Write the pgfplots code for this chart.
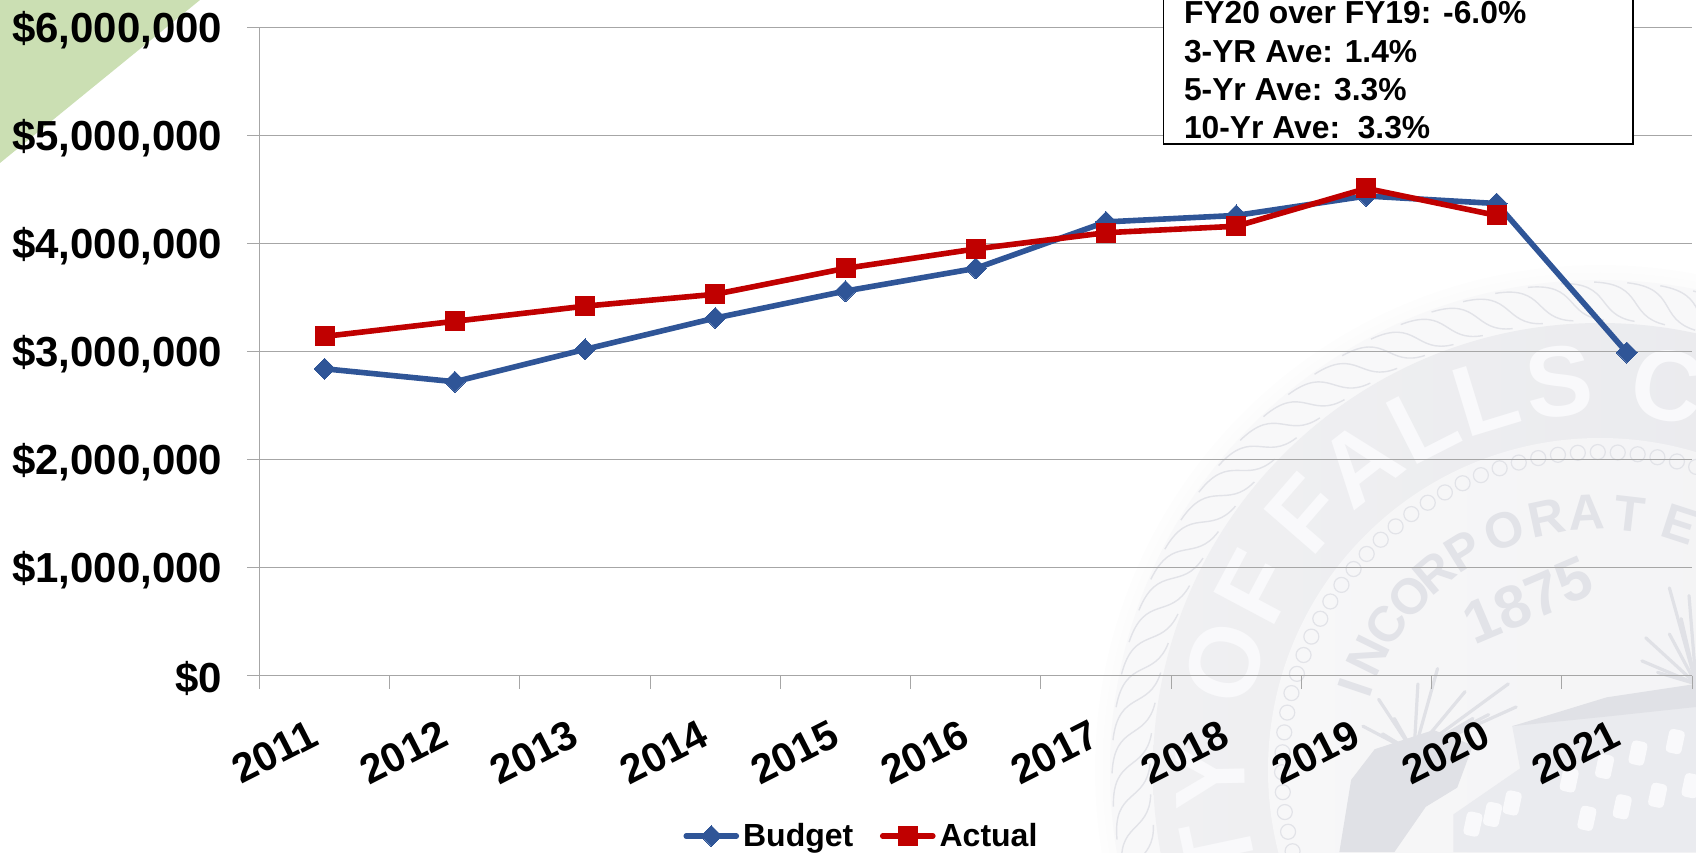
\documentclass[border=0pt]{standalone}
\usepackage{fontspec}
\setmainfont{Liberation Sans}
\usepackage{pgfplots}
\pgfplotsset{compat=1.18}
\definecolor{budgetblue}{HTML}{2F5597}
\definecolor{actualred}{HTML}{C00000}
\definecolor{gridgray}{HTML}{A6A6A6}
\definecolor{sealgreen}{HTML}{CBDFB3}
\definecolor{sealband}{HTML}{EAEBEF}
\definecolor{sealbandL}{HTML}{F0F0F2}
\definecolor{sealbandR}{HTML}{E7E8EC}
\definecolor{sealinnerL}{HTML}{F7F7F8}
\definecolor{sealinnerR}{HTML}{F2F2F4}
\definecolor{sealrope}{HTML}{F8F8F9}
\definecolor{sealline}{HTML}{E2E3E8}
\definecolor{sealdark}{HTML}{E0E1E6}
\definecolor{sealwhite}{HTML}{F9F9FB}
\begin{document}
\begin{tikzpicture}
\useasboundingbox (-129.75pt,-88.25pt) rectangle (718.25pt,337.75pt);
\clip (-129.75pt,-88.25pt) rectangle (718.25pt,337.75pt);
% pixel coordinates of the reference
\begin{scope}[shift={(-129.75pt,337.75pt)},x=0.5pt,y=-0.5pt]
\fill[sealgreen] (0,0) -- (200,0) -- (0,163) -- cycle;
% seal halo and rope
\fill[black!0.6] (1600,770) circle (505);
\fill[black!1.2] (1600,770) circle (497);
\fill[sealrope] (1600,770) circle (490);
\shade[left color=sealbandL,right color=sealbandR] (1600,770) circle (447);
\shade[left color=sealinnerL,right color=sealinnerR] (1600,770) circle (332);
\foreach \a in {40,43.9,...,200}{
  \draw[sealline,line width=0.7pt]
    ({1600+488*cos(\a)},{770-488*sin(\a)})
    .. controls ({1600+488*cos(\a-6)},{770-488*sin(\a-6)}) and ({1600+455*cos(\a-4)},{770-455*sin(\a-4)})
    .. ({1600+450*cos(\a-9)},{770-450*sin(\a-9)});
}
\foreach \a in {40,43.6,...,200}{
  \draw[sealline,line width=0.6pt] ({1600+318*cos(\a)},{770-318*sin(\a)}) circle (7.5);
}
% outer lettering
\foreach \a/\l in {192/T,181/Y,164/O,152/F,139/F,128/A,117/L,107/L,96/S,80/C}{
  \node[text=sealwhite,font=\bfseries\fontsize{50}{50}\selectfont,rotate=\a-90,inner sep=0pt]
    at ({1600+390*cos(\a)},{770-390*sin(\a)}) {\l};
}
% inner lettering
\foreach \a/\l in {161.4/I,153.8/N,145.7/C,137.6/O,130/R,121.8/P,111.7/O,102/R,93/A,83.4/T,72/E,62/D}{
  \node[text=sealline,font=\bfseries\fontsize{25}{25}\selectfont,rotate=\a-90,inner sep=0pt]
    at ({1600+258*cos(\a)},{770-258*sin(\a)}) {\l};
}
\node[text=sealline,font=\bfseries\fontsize{30}{30}\selectfont,rotate=23,inner sep=0pt] at (1528,600) {1875};
\end{scope}
% trees and building, in coordinates of the zoomed crop
\begin{scope}[shift={(410.25pt,212.75pt)},x=0.19646pt,y=-0.192pt]
\fill[sealdark] (690,1380) -- (750,1300) -- (900,1250) -- (1000,1290) -- (960,1400) -- (880,1450) -- (800,1568) -- (660,1568) -- cycle;
\foreach \ex/\ey in {910/1090,1090/1130,1110/1190,760/1170,800/1220,980/1150,1040/1210,720/1240,860/1130,1000/1220,770/1260}{
  \draw[sealdark,line width=1.6pt,line cap=round] (850,1310) -- (\ex,\ey);
}
\foreach \ex/\ey in {1440/1010,1500/880,1530/960,1470/1100,1430/1070,1550/900,1500/1000}{
  \draw[sealdark,line width=1.6pt,line cap=round] (1568,1130) -- (\ex,\ey);
}
\fill[sealband] (950,1470) -- (1120,1350) -- (1100,1240) -- (1568,1130) -- (1568,1568) -- (950,1568) -- cycle;
\fill[sealdark] (1100,1240) -- (1340,1165) -- (1568,1130) -- (1568,1190) -- (1340,1215) -- cycle;
\foreach \wx/\wy in {1420/1310,1515/1280,1335/1345,1245/1380,1380/1450,1290/1480,1470/1420,1555/1395,1000/1495,1050/1470,1100/1440}{
  \node[fill=sealwhite,rounded corners=2pt,rotate=-12,minimum width=8pt,minimum height=12pt,inner sep=0pt] at (\wx,\wy) {};
}
\end{scope}
\begin{axis}[
  at={(0pt,0pt)},anchor=south west,
  scale only axis,width=716.25pt,height=324pt,
  xmin=0,xmax=11,ymin=0,ymax=6000000,
  axis lines=left,axis line style={-,draw=gridgray,line width=0.5pt},
  tick align=outside,
  xtick={0.5,1.5,2.5,3.5,4.5,5.5,6.5,7.5,8.5,9.5,10.5},
  xticklabels={2011,2012,2013,2014,2015,2016,2017,2018,2019,2020,2021},
  minor xtick={0,1,2,3,4,5,6,7,8,9,10,11},
  major x tick style={draw=none},
  minor x tick style={draw=gridgray,line width=0.5pt},
  minor tick length=6.5pt,major tick length=6.25pt,
  ytick={0,1000000,2000000,3000000,4000000,5000000,6000000},
  yticklabels={\$0,{\$1,000,000},{\$2,000,000},{\$3,000,000},{\$4,000,000},{\$5,000,000},{\$6,000,000}},
  y tick style={draw=gridgray,line width=0.7pt},
  ymajorgrids,
  grid style={draw=gridgray,line width=0.7pt},
  scaled y ticks=false,
  yticklabel style={font=\bfseries\fontsize{21}{21}\selectfont,text=black,xshift=-8.8pt,yshift=-1.5pt},
  xticklabel style={font=\bfseries\fontsize{20.5}{20.5}\selectfont,text=black,rotate=27,anchor=east,xshift=-11pt,yshift=-17pt},
  legend columns=2,
  legend style={at={(0.4209,-0.2477)},anchor=center,draw=none,fill=none,font=\bfseries\fontsize{16}{16}\selectfont,
    /tikz/every even column/.append style={column sep=11.3pt},inner sep=0pt,row sep=0pt},
  legend cell align=left,
  legend image code/.code={\draw[#1,line cap=round,mark repeat=2,mark phase=2] plot coordinates {(0cm,0cm)(0.44cm,0cm)(0.88cm,0cm)};},
]
\addplot[budgetblue,line width=2.8pt,line join=round,mark=diamond*,mark size=5.25pt,mark options={solid,xscale=1.333,fill=budgetblue,draw=budgetblue,line width=0pt}] coordinates {
 (0.5,2840000)(1.5,2720000)(2.5,3020000)(3.5,3310000)(4.5,3560000)(5.5,3770000)(6.5,4200000)(7.5,4260000)(8.5,4440000)(9.5,4370000)(10.5,2990000)};
\addlegendentry{Budget}
\addplot[actualred,line width=2.8pt,line join=round,mark=square*,mark size=4.75pt,mark options={solid,fill=actualred,draw=actualred,line width=0pt}] coordinates {
 (0.5,3140000)(1.5,3280000)(2.5,3420000)(3.5,3530000)(4.5,3770000)(5.5,3950000)(6.5,4100000)(7.5,4160000)(8.5,4510000)(9.5,4260000)};
\addlegendentry{Actual}
\end{axis}
\begin{scope}[shift={(-129.75pt,337.75pt)},x=0.5pt,y=-0.5pt]
\fill[white,draw=black,line width=0.6pt] (1163.5,-20) rectangle (1633,144);
\foreach \yy/\t in {23.3/{FY20 over FY19: -6.0\%},62.3/{3-YR Ave: 1.4\%},101/{5-Yr Ave: 3.3\%},138.3/{10-Yr Ave:\ \ 3.3\%}}{
  \node[anchor=base west,inner sep=0pt,font=\bfseries\fontsize{15.9}{15.9}\selectfont] at (1183.6,\yy) {\t};
}
\end{scope}
\end{tikzpicture}
\end{document}
